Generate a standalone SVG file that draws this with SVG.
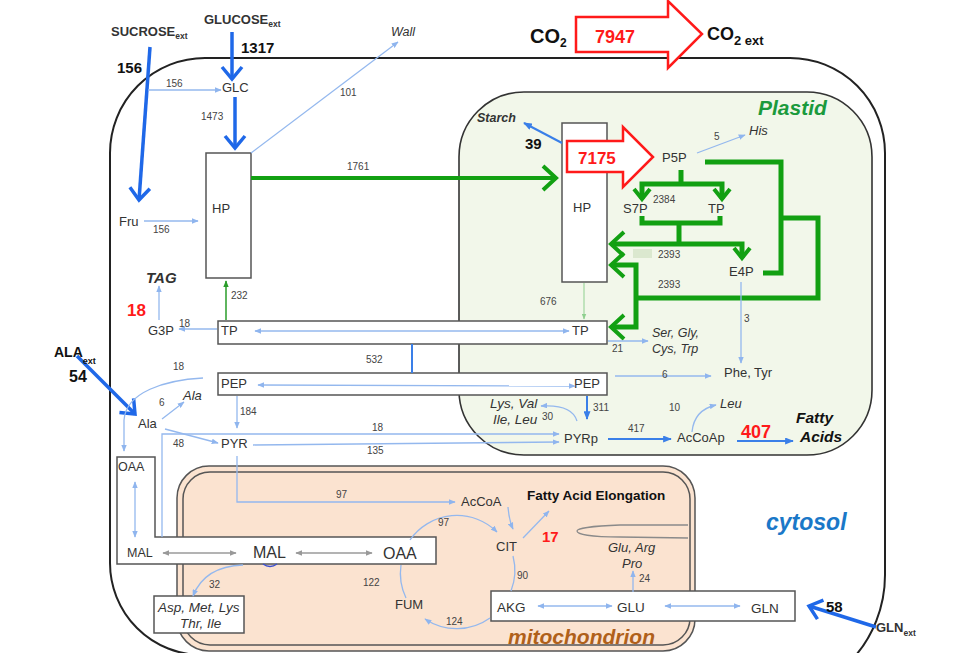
<svg xmlns="http://www.w3.org/2000/svg" width="976" height="653" viewBox="0 0 976 653">
<style>
.t{font-family:"Liberation Sans",Arial,sans-serif;fill:#333;font-size:13px}
.n{font-family:"Liberation Sans",Arial,sans-serif;fill:#444;font-size:10px}
.b{font-weight:bold}
.i{font-style:italic}
.k{fill:#111}
.red{fill:#ff1a1a}
.thin{stroke:#94b8ee;stroke-width:1.3;fill:none;marker-end:url(#ah)}
.thin2{stroke:#94b8ee;stroke-width:1.3;fill:none;marker-start:url(#ah);marker-end:url(#ah)}
.line{stroke:#94b8ee;stroke-width:1.3;fill:none}
.gray2{stroke:#9a9a9a;stroke-width:1.3;fill:none;marker-start:url(#ahg);marker-end:url(#ahg)}
.med{stroke:#3a7fe8;stroke-width:2;fill:none;marker-end:url(#ahm)}
.thick{stroke:#1f68e8;stroke-width:3.5;fill:none;marker-end:url(#chB)}
.grn{stroke:#12a012;stroke-width:5;fill:none}
.box{fill:#fff;stroke:#555;stroke-width:1.5}
</style>
<defs>
<marker id="ah" viewBox="0 0 10 8" refX="9" refY="4" markerWidth="7" markerHeight="5.6" markerUnits="userSpaceOnUse" orient="auto-start-reverse"><path d="M0,0 L10,4 L0,8 z" fill="#8fb5ee"/></marker>
<marker id="ahg" viewBox="0 0 10 8" refX="9" refY="4" markerWidth="7" markerHeight="5.6" markerUnits="userSpaceOnUse" orient="auto-start-reverse"><path d="M0,0 L10,4 L0,8 z" fill="#999"/></marker>
<marker id="ahm" viewBox="0 0 10 8" refX="9" refY="4" markerWidth="9" markerHeight="7" markerUnits="userSpaceOnUse" orient="auto"><path d="M0,0 L10,4 L0,8 z" fill="#3a7fe8"/></marker>
<marker id="ahgr" viewBox="0 0 10 8" refX="9" refY="4" markerWidth="7" markerHeight="5.6" markerUnits="userSpaceOnUse" orient="auto"><path d="M0,0 L10,4 L0,8 z" fill="#2a9d2a"/></marker>
<marker id="ahlg" viewBox="0 0 10 8" refX="9" refY="4" markerWidth="6" markerHeight="5" markerUnits="userSpaceOnUse" orient="auto"><path d="M0,0 L10,4 L0,8 z" fill="#8fd08f"/></marker>
<marker id="chB" viewBox="-3 -13 18 26" refX="12" refY="0" markerWidth="18" markerHeight="26" markerUnits="userSpaceOnUse" orient="auto" overflow="visible"><path d="M0,-10 L12,0 L0,10" fill="none" stroke="#1f68e8" stroke-width="3.5"/></marker>
<marker id="chG" viewBox="-3 -15 18 30" refX="13" refY="0" markerWidth="18" markerHeight="30" markerUnits="userSpaceOnUse" orient="auto" overflow="visible"><path d="M0,-12 L13,0 L0,12" fill="none" stroke="#12a012" stroke-width="4"/></marker>
<marker id="chGs" viewBox="-3 -11 16 22" refX="10" refY="0" markerWidth="16" markerHeight="22" markerUnits="userSpaceOnUse" orient="auto" overflow="visible"><path d="M0,-8 L10,0 L0,8" fill="none" stroke="#12a012" stroke-width="4"/></marker>
</defs>
<rect width="976" height="653" fill="#fff"/>

<!-- compartments -->
<g id="cytosol">
<path d="M205,58 H790 A95,95 0 0 1 885,153 V575 A125,125 0 0 1 760,700 L202,655 A92,92 0 0 1 110,563 V153 A95,95 0 0 1 205,58 Z" fill="none" stroke="#222" stroke-width="2"/>
<text class="t b i" x="766" y="530" style="font-size:23px;fill:#1a78c8">cytosol</text>
</g>
<g id="plastid">
<rect x="459" y="92" width="413" height="363" rx="65" fill="#f2f7ea" stroke="#333" stroke-width="1.6"/>
<rect x="633" y="249" width="19" height="9" fill="#dbe8cf"/>
<text class="t b i" x="758" y="115" style="font-size:21px;fill:#1b9a3c">Plastid</text>
</g>
<g id="mitochondrion">
<rect x="177" y="466" width="518" height="185" rx="32" fill="#fbe3d0" stroke="#555" stroke-width="1.5"/>
<rect x="183" y="472" width="507" height="173" rx="27" fill="#fbe3d0" stroke="#555" stroke-width="1.5"/>
<path d="M688,525 L620,525 C590,526 577,529 577,531 C577,534 590,537 620,537 L688,538" fill="none" stroke="#8a8a8a" stroke-width="1.3"/>
<text class="t b i" x="508" y="644" style="font-size:21px;fill:#b0601a">mitochondrion</text>
</g>

<!-- boxes (nodes with shapes) -->
<g id="node-HP-cyt"><rect class="box" x="206" y="153" width="45" height="125"/><text class="t" x="212" y="213">HP</text></g>
<g id="node-HP-pl"><rect class="box" x="562" y="123" width="45" height="159"/><text class="t" x="573" y="212">HP</text></g>
<g id="node-TP"><rect class="box" x="218" y="321" width="389" height="23"/><text class="t" x="221" y="335">TP</text><text class="t" x="572" y="335">TP</text></g>
<g id="node-PEP"><rect class="box" x="218" y="373" width="389" height="22"/><text class="t" x="221" y="388">PEP</text><text class="t" x="574" y="388">PEP</text></g>
<g id="node-OAA-MAL"><path class="box" d="M117,457 H155 V537 H436 V564 H117 Z"/><text class="t" x="118" y="471" style="font-size:12.5px">OAA</text><text class="t" x="127" y="557" style="font-size:12.5px">MAL</text><text class="t" x="253" y="558" style="font-size:16px">MAL</text><text class="t" x="383" y="559" style="font-size:16px">OAA</text></g>
<g id="node-AKG-GLU-GLN"><rect class="box" x="491" y="591" width="304" height="30"/><text class="t" x="497" y="612" style="font-size:13.5px">AKG</text><text class="t" x="617" y="612" style="font-size:13.5px">GLU</text><text class="t" x="751" y="613" style="font-size:13.5px">GLN</text></g>
<g id="node-Asp"><rect class="box" x="154" y="596" width="90" height="37"/><text class="t i" x="158" y="612" style="font-size:13.5px">Asp, Met, Lys</text><text class="t i" x="180" y="628" style="font-size:13.5px">Thr, Ile</text></g>
<g id="node-7175"><polygon points="567,141 623,141 623,127 653,157 623,187 623,172 567,172" fill="#fff" stroke="#ff1a1a" stroke-width="2.5"/><text class="t b red" x="578" y="164" style="font-size:17px">7175</text></g>
<g id="node-7947"><polygon points="576,17 668,17 668,1 702,34 668,68 668,52 576,52" fill="#fff" stroke="#ff1a1a" stroke-width="2.5"/><text class="t b red" x="595" y="43" style="font-size:18px">7947</text></g>

<!-- connectors -->
<g id="connectors">
<path class="thick" d="M150,47 L139,200"/>
<path class="thick" d="M232,32 L232,79"/>
<path class="thick" d="M235,97 L235,148"/>
<path class="thick" d="M77,356 L135,414"/>
<path class="thick" d="M876,627 L809,606"/>
<path class="thin" d="M148,90 L221,90"/>
<path class="thin" d="M144,221 L198,221"/>
<path class="thin" d="M251,153 L398,42"/>
<path d="M251,178 L556,178" stroke="#12a012" stroke-width="4" fill="none" marker-end="url(#chG)"/>
<path d="M226,320 L226,281" stroke="#2a9d2a" stroke-width="1.5" fill="none" marker-end="url(#ahgr)"/>
<path d="M584,283 L584,319" stroke="#8fd08f" stroke-width="1" fill="none" marker-end="url(#ahlg)"/>
<path class="med" d="M562,143 L524,123"/>
<path class="thin" d="M697,153 L745,135"/>
<!-- green PPP network -->
<path class="grn" d="M681,170 L681,184"/>
<path class="grn" d="M681,184 L642,184 L642,199" marker-end="url(#chGs)"/>
<path class="grn" d="M681,184 L722,184 L722,199" marker-end="url(#chGs)"/>
<path class="grn" d="M642,216 L642,223 L720,223 L720,216"/>
<path class="grn" d="M679,223 L679,244"/>
<path class="grn" d="M679,244 L611,244" marker-end="url(#chG)"/>
<path class="grn" d="M679,244 L742,244 L742,258" marker-end="url(#chGs)"/>
<path class="grn" d="M705,162 L781,162 L781,273 L763,273"/>
<path class="grn" d="M781,218 L818,218 L818,298 L636,298"/>
<path class="grn" d="M636,298 L636,265 L611,265" marker-end="url(#chG)"/>
<path class="grn" d="M636,298 L636,327 L611,327" marker-end="url(#chG)"/>
<!-- TP / PEP -->
<path class="thin2" d="M255,331 L569,331"/>
<path class="thin" d="M217,329 L179,329"/>
<path class="thin" d="M159,320 L159,286"/>
<path d="M412,344 L412,373" stroke="#3a7fe8" stroke-width="2" fill="none"/>
<path class="thin2" d="M258,385 L575,386"/>
<path class="thin" d="M615,376 L711,376"/>
<path class="thin" d="M741,282 L741,363"/>
<path class="thin" d="M608,341 L648,341"/>
<path class="med" d="M587,396 L587,419"/>
<path class="thin" d="M577,421 Q572,404 541,406"/>
<path class="med" d="M608,439 L671,439"/>
<path class="thin" d="M692,432 Q694,410 716,405"/>
<path class="med" d="M737,441 L793,441"/>
<!-- Ala region -->
<path class="thin" d="M203,378 C165,380 126,392 124,420 L124,451"/>
<path class="thin" d="M162,419 L184,402"/>
<path class="thin" d="M165,429 L218,443"/>
<path class="thin" d="M237,396 L237,428"/>
<path class="thin" d="M162,537 L162,434 L559,434"/>
<path class="thin" d="M253,445 L559,442"/>
<path class="thin" d="M237,456 L237,502 L455,502"/>
<path class="thin2" d="M135,482 L135,537"/>
<path class="gray2" d="M163,553 L236,553"/>
<path class="gray2" d="M296,553 L372,553"/>
<path class="thin" d="M243,565 C215,566 200,578 193,596"/>
<path d="M263,564 Q270,569 277,564" stroke="#3a4fd0" stroke-width="1.5" fill="none"/>
<!-- TCA -->
<path class="thin" d="M410,540 A57,57 0 0 1 497,532"/>
<path class="line" d="M513,556 A57,57 0 0 1 511,591"/>
<path class="thin" d="M490,618 A57,57 0 0 1 425,619"/>
<path class="line" d="M406,598 A57,57 0 0 1 401,565"/>
<path class="thin" d="M508,507 Q509,520 513,529"/>
<path class="thin" d="M523,538 L549,511"/>
<path class="thin" d="M633,592 L633,571"/>
<path class="thin2" d="M538,606 L612,606"/>
<path class="thin2" d="M665,606 L740,606"/>
</g>

<!-- edge labels -->
<g id="edge-labels">
<text class="n" x="166" y="87">156</text>
<text class="n" x="201" y="120">1473</text>
<text class="n" x="153" y="233">156</text>
<text class="n" x="340" y="96">101</text>
<text class="n" x="347" y="170">1761</text>
<text class="n" x="714" y="140">5</text>
<text class="n" x="653" y="203">2384</text>
<text class="n" x="658" y="258">2393</text>
<text class="n" x="658" y="288">2393</text>
<text class="n" x="540" y="305">676</text>
<text class="n" x="744" y="322">3</text>
<text class="n" x="231" y="299">232</text>
<text class="n" x="179" y="327">18</text>
<text class="n" x="366" y="363">532</text>
<text class="n" x="612" y="352">21</text>
<text class="n" x="173" y="370">18</text>
<text class="n" x="662" y="378">6</text>
<text class="n" x="159" y="406">6</text>
<text class="n" x="240" y="415">184</text>
<text class="n" x="173" y="447">48</text>
<text class="n" x="372" y="431">18</text>
<text class="n" x="367" y="454">135</text>
<text class="n" x="542" y="420">30</text>
<text class="n" x="593" y="411">311</text>
<text class="n" x="628" y="432">417</text>
<text class="n" x="669" y="411">10</text>
<text class="n" x="336" y="498">97</text>
<text class="n" x="438" y="526">97</text>
<text class="n" x="517" y="579">90</text>
<text class="n" x="363" y="586">122</text>
<text class="n" x="446" y="625">124</text>
<text class="n" x="209" y="588">32</text>
<text class="n" x="639" y="582">24</text>
<text class="t b k" x="241" y="53" style="font-size:15px">1317</text>
<text class="t b k" x="117" y="73" style="font-size:15px">156</text>
<text class="t b k" x="525" y="149" style="font-size:15px">39</text>
<text class="t b red" x="127" y="316" style="font-size:17px">18</text>
<text class="t b k" x="69" y="382" style="font-size:16px">54</text>
<text class="t b red" x="741" y="438" style="font-size:18px">407</text>
<text class="t b red" x="542" y="542" style="font-size:15px">17</text>
<text class="t b k" x="826" y="612" style="font-size:15px">58</text>
</g>

<!-- text-only nodes -->
<g id="node-SUCROSE-ext"><text class="t b" x="111" y="36">SUCROSE<tspan dy="3" style="font-size:8.5px">ext</tspan></text></g>
<g id="node-GLUCOSE-ext"><text class="t b" x="204" y="24">GLUCOSE<tspan dy="3" style="font-size:8.5px">ext</tspan></text></g>
<g id="node-CO2"><text class="t b k" x="530" y="43" style="font-size:20px">CO<tspan dy="4" style="font-size:12px">2</tspan></text></g>
<g id="node-CO2-ext"><text class="t b k" x="707" y="40" style="font-size:18px">CO<tspan dy="5" style="font-size:13px">2 ext</tspan></text></g>
<g id="node-GLC"><text class="t" x="222" y="92">GLC</text></g>
<g id="node-Fru"><text class="t" x="119" y="226">Fru</text></g>
<g id="node-Wall"><text class="t i" x="391" y="36" style="font-size:12.5px">Wall</text></g>
<g id="node-Starch"><text class="t b i" x="477" y="122" style="font-size:12.5px">Starch</text></g>
<g id="node-P5P"><text class="t" x="662" y="162">P5P</text></g>
<g id="node-His"><text class="t i" x="749" y="135">His</text></g>
<g id="node-S7P"><text class="t" x="623" y="213">S7P</text></g>
<g id="node-TP-pl"><text class="t" x="708" y="213">TP</text></g>
<g id="node-E4P"><text class="t" x="729" y="276">E4P</text></g>
<g id="node-TAG"><text class="t b i" x="146" y="283" style="font-size:15px">TAG</text></g>
<g id="node-G3P"><text class="t" x="148" y="335">G3P</text></g>
<g id="node-SerGly"><text class="t i" x="652" y="337" style="font-size:12.5px">Ser, Gly,</text><text class="t i" x="652" y="353" style="font-size:12.5px">Cys, Trp</text></g>
<g id="node-PheTyr"><text class="t" x="724" y="377">Phe, Tyr</text></g>
<g id="node-ALA-ext"><text class="t b k" x="54" y="357" style="font-size:14px">ALA<tspan dy="7" style="font-size:9px">ext</tspan></text></g>
<g id="node-Ala"><text class="t" x="138" y="428">Ala</text></g>
<g id="node-Ala-out"><text class="t i" x="183" y="400">Ala</text></g>
<g id="node-PYR"><text class="t" x="221" y="448">PYR</text></g>
<g id="node-LysVal"><text class="t i" x="490" y="408" style="font-size:13.5px">Lys, Val</text><text class="t i" x="493" y="424" style="font-size:13.5px">Ile, Leu</text></g>
<g id="node-PYRp"><text class="t" x="564" y="443">PYRp</text></g>
<g id="node-AcCoAp"><text class="t" x="677" y="442">AcCoAp</text></g>
<g id="node-Leu"><text class="t i" x="720" y="408">Leu</text></g>
<g id="node-FattyAcids"><text class="t b i k" x="796" y="423" style="font-size:15.5px">Fatty</text><text class="t b i k" x="800" y="442" style="font-size:15.5px">Acids</text></g>
<g id="node-AcCoA"><text class="t" x="461" y="506">AcCoA</text></g>
<g id="node-FAElong"><text class="t b k" x="527" y="500" style="font-size:13.5px">Fatty Acid Elongation</text></g>
<g id="node-CIT"><text class="t" x="496" y="551">CIT</text></g>
<g id="node-FUM"><text class="t" x="395" y="609">FUM</text></g>
<g id="node-GluArgPro"><text class="t i" x="608" y="552">Glu, Arg</text><text class="t i" x="622" y="568">Pro</text></g>
<g id="node-GLN-ext"><text class="t b" x="876" y="632">GLN<tspan dy="4" style="font-size:8.5px">ext</tspan></text></g>
</svg>
